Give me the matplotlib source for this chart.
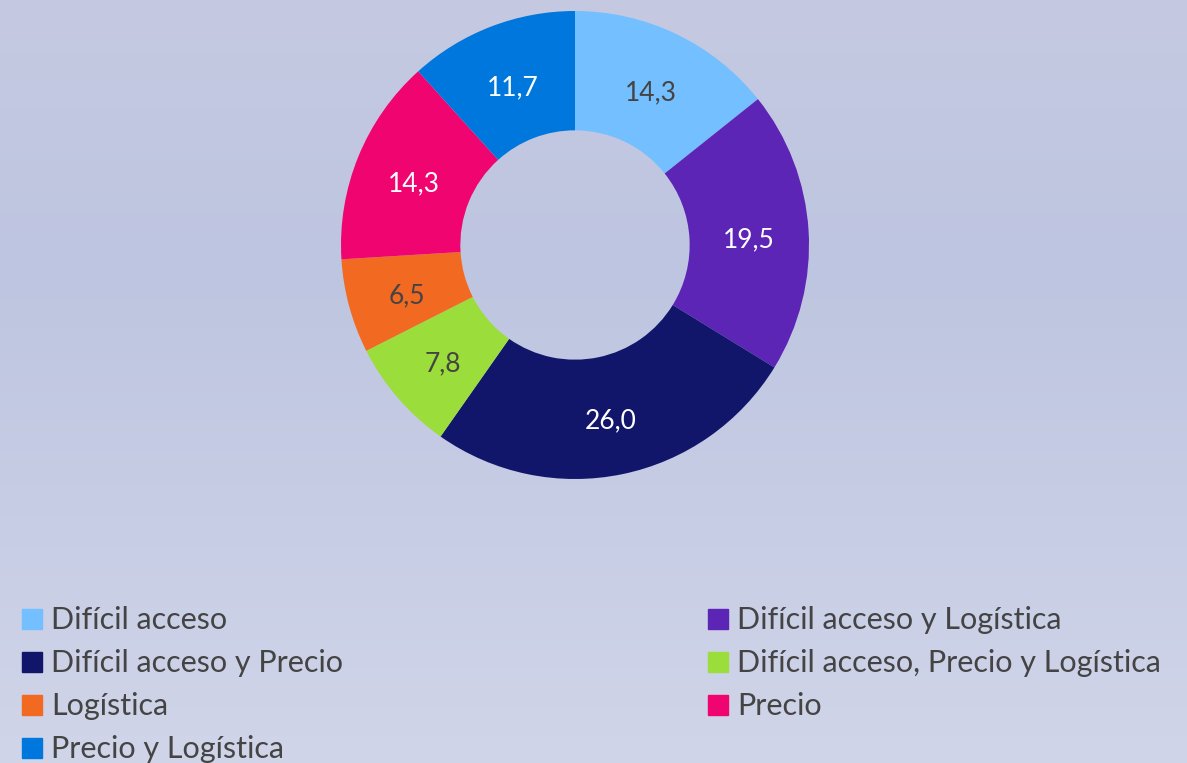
import numpy as np
import matplotlib
matplotlib.use("Agg")
import matplotlib.pyplot as plt
from matplotlib.patches import Rectangle

categories = ["Difícil acceso", "Difícil acceso y Logística", "Difícil acceso y Precio",
              "Difícil acceso, Precio y Logística", "Logística", "Precio", "Precio y Logística"]
values = [14.3, 19.5, 26.0, 7.8, 6.5, 14.3, 11.7]
labels = ["14,3", "19,5", "26,0", "7,8", "6,5", "14,3", "11,7"]
colors = ["#73BFFF", "#5C25B5", "#12166B", "#9BDD3A", "#F26A21", "#F0046F", "#0077DD"]
label_colors = ["#444444", "white", "white", "#444444", "#444444", "white", "white"]

plt.rcParams['font.family'] = ['Lato', 'DejaVu Sans']

W, H = 1187, 763
fig = plt.figure(figsize=(W / 100, H / 100), dpi=100)

# background gradient
bg = fig.add_axes([0, 0, 1, 1])
stops_y = [0.0, 0.35, 1.0]
top = np.array([197, 202, 226]) / 255
mid = np.array([190, 197, 224]) / 255
bot = np.array([208, 213, 233]) / 255
t = np.linspace(0, 1, H)
grad = np.empty((H, 1, 3))
for c in range(3):
    grad[:, 0, c] = np.interp(t, stops_y, [top[c], mid[c], bot[c]])
bg.imshow(grad, aspect='auto', extent=[0, 1, 0, 1])
bg.axis('off')

# donut
cx, cy, r = 575, 245, 234
ax = fig.add_axes([(cx - r) / W, (H - cy - r) / H, 2 * r / W, 2 * r / H])
wedges, _ = ax.pie(values, colors=colors, startangle=90, counterclock=False,
                   radius=1, wedgeprops=dict(width=0.51, linewidth=0))
ax.set_xlim(-1, 1)
ax.set_ylim(-1, 1)
ax.set_aspect('equal')
ax.axis('off')

total = sum(values)
angle = 90.0
for v, lab, lc in zip(values, labels, label_colors):
    mid_a = np.deg2rad(angle - v / total * 360 / 2)
    angle -= v / total * 360
    ax.text(0.745 * np.cos(mid_a), 0.745 * np.sin(mid_a) - 0.022, lab, ha='center', va='center',
            fontsize=19, color=lc)

# legend, row-major in two columns
col_x = [22, 708]
row_y = [619, 662, 705, 748]
sq = 20
for i, (cat, col) in enumerate(zip(categories, colors)):
    x = col_x[i % 2]
    y = row_y[i // 2]
    fig.patches.append(Rectangle(((x) / W, (H - y - sq / 2) / H), sq / W, sq / H,
                                 transform=fig.transFigure, color=col, figure=fig))
    fig.text((x + 29) / W, (H - y - 1) / H, cat, ha='left', va='center',
             fontsize=22, color='#444444')

fig.savefig("out.png", dpi=100)
